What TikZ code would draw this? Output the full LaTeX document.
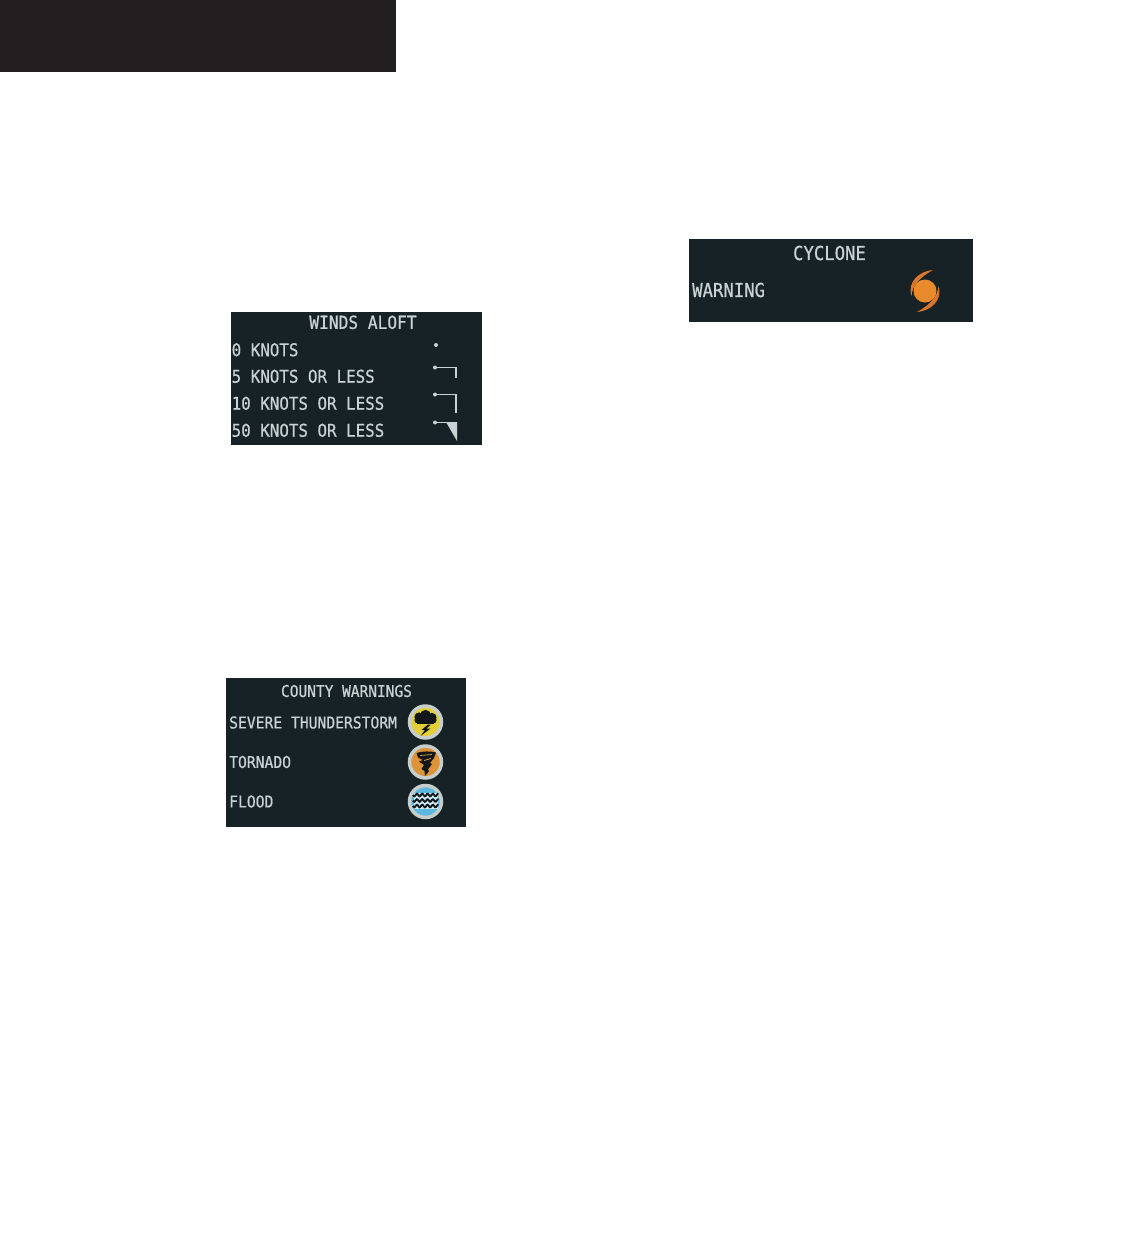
\documentclass[tikz,border=0pt]{standalone}
\usepackage{fontspec}
\setmonofont[FakeStretch=0.9,FakeBold=0.6]{DejaVu Sans Mono}
\definecolor{WxPanel}{HTML}{172226}
\definecolor{WxText}{HTML}{C9D3D4}
\definecolor{WxBar}{HTML}{231F20}
\definecolor{WxRing}{HTML}{C6CDCB}
\definecolor{WxYellow}{HTML}{E3CE3A}
\definecolor{WxOrange}{HTML}{DD9438}
\definecolor{WxBlue}{HTML}{5CB8DE}
\definecolor{WxCyclone}{HTML}{E98A2C}
\definecolor{WxArm}{HTML}{D9772A}
\definecolor{WxInk}{HTML}{10161A}
\begin{document}
\begin{tikzpicture}[
    x=1pt, y=-1pt,
    panel/.style = {fill=WxPanel, draw=none},
    rowlabel/.style = {
        anchor=west, inner sep=0pt, text=WxText,
        font=\fontsize{17.6}{18}\selectfont\ttfamily
    },
    smalllabel/.style = {
        anchor=west, inner sep=0pt, text=WxText,
        font=\fontsize{16.3}{17}\selectfont\ttfamily
    },
    titlelabel/.style = {
        anchor=center, inner sep=0pt, text=WxText,
        font=\fontsize{18}{19}\selectfont\ttfamily
    },
    smalltitle/.style = {
        anchor=center, inner sep=0pt, text=WxText,
        font=\fontsize{16.1}{17}\selectfont\ttfamily
    },
    bigtitle/.style = {
        anchor=center, inner sep=0pt, text=WxText,
        font=\fontsize{19.2}{20}\selectfont\ttfamily
    },
    biglabel/.style = {
        anchor=west, inner sep=0pt, text=WxText,
        font=\fontsize{19.2}{20}\selectfont\ttfamily
    },
    barb/.style = {draw=WxText, line width=1.5pt},
    barbdot/.style = {circle, fill=WxText, inner sep=0pt, minimum size=4pt},
    badge/.style = {circle, draw=WxRing, line width=3.5pt, minimum size=32pt, inner sep=0pt},
    wave/.style = {draw=WxInk, line width=1.9pt}
]
\useasboundingbox (0,0) rectangle (1145,1256);

% ===== HEADER BAR =====
\fill[WxBar] (0,0) rectangle (396,71.5);

% ===== WINDS ALOFT =====
\path[panel] (231,312) rectangle (482,445);
\node[titlelabel] (windstitle) at (363,322.3) {WINDS ALOFT};
\node[rowlabel] (wind0) at (231.5,349.8) {0 KNOTS};
\node[rowlabel] (wind5) at (231.5,376.3) {5 KNOTS OR LESS};
\node[rowlabel] (wind10) at (231.5,403.3) {10 KNOTS OR LESS};
\node[rowlabel] (wind50) at (231.5,430.3) {50 KNOTS OR LESS};

\node[barbdot] (dot0) at (436,345) {};
\node[barbdot] (dot5) at (435,367.5) {};
\node[barbdot] (dot10) at (435,394.5) {};
\node[barbdot] (dot50) at (435,422.5) {};
\draw[barb] (dot5.center) -- (456,367.5) -- (456,378);
\draw[barb] (dot10.center) -- (456,394.5) -- (456,413);
\draw[barb] (dot50.center) -- (447,422.5);
\fill[WxText] (446,422) -- (457,422) -- (457,441) -- cycle;

% ===== COUNTY WARNINGS =====
\path[panel] (226,678) rectangle (466,827);
\node[smalltitle] (countytitle) at (346.5,691) {COUNTY WARNINGS};
\node[smalllabel] (severe) at (229,722.5) {SEVERE THUNDERSTORM};
\node[smalllabel] (tornado) at (229,762) {TORNADO};
\node[smalllabel] (flood) at (229,801.5) {FLOOD};

% thunderstorm icon
\node[badge, fill=WxYellow] (iconstorm) at (425.5,722) {};
\fill[WxInk] (419,717) circle[radius=4.6] (425.5,715.5) circle[radius=5.6]
    (432,717.5) circle[radius=4.6] (418,720) circle[radius=3.6] (433,720) circle[radius=3.6];
\fill[WxInk] (417,716) rectangle (434,723.5);
\fill[WxInk] (428,724.5) -- (421.5,730) -- (425,730) -- (420.5,736) -- (430.5,728.5) -- (426.5,728.5) -- (431,724.5) -- cycle;

% tornado icon
\node[badge, fill=WxOrange] (icontwister) at (425.5,762) {};
\fill[WxInk] (416.5,753) .. controls (422,751) and (431,751) .. (436,752.5)
    -- (434,758) -- (430,763) -- (432,764) -- (428,769.5) -- (429,771) -- (425,776)
    -- (424.5,771) -- (421.5,769) -- (424,765) -- (419,761.5) -- (423,760) -- (418,757.5) -- cycle;
\draw[WxOrange, line width=0.8pt] (420,755.5) -- (432,754.5);
\draw[WxOrange, line width=0.8pt] (424,760.5) -- (431,758.5);

% flood icon
\node[badge, fill=WxBlue] (iconflood) at (425.5,801.5) {};
\fill[white!70!WxBlue] (413.5,792.5) rectangle (437.5,808.5);
\foreach \waveY in {795,800.5,806}
    \draw[wave] plot[domain=0:25.5, samples=40, smooth] ({413+\x},{\waveY+1.3*sin(\x*68)});

% ===== CYCLONE =====
\path[panel] (689,239) rectangle (973,322);
\node[bigtitle] (cyclonetitle) at (829.5,253) {CYCLONE};
\node[biglabel] (warning) at (692,290) {WARNING};
\node[circle, fill=WxCyclone, minimum size=23pt, inner sep=0pt] (eye) at (925,291) {};
\fill[WxArm] (933,270) .. controls (920,271) and (907,281) .. (911.5,296)
    .. controls (912,286) and (920,277) .. (933,270) -- cycle;
\fill[WxArm] (917,312) .. controls (930,311) and (943,301) .. (938.5,286)
    .. controls (938,296) and (930,305) .. (917,312) -- cycle;
\end{tikzpicture}
\end{document}
